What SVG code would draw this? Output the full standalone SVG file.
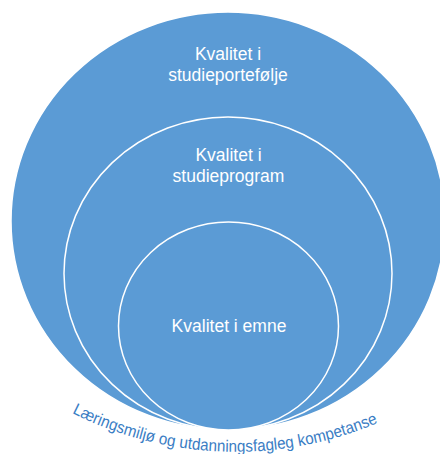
<svg xmlns="http://www.w3.org/2000/svg" width="440" height="454" viewBox="0 0 440 454">
<style>
.ring{fill:#5B9BD5;stroke:#FFFFFF;stroke-width:1.5}
.lbl{font-family:"Liberation Sans",Arial,sans-serif;font-size:17.5px;fill:#FFFFFF;text-anchor:middle}
.arc{font-family:"Liberation Sans",Arial,sans-serif;font-size:16.5px;fill:#3A7DC4}
</style>
<defs>
<path id="arcPath" d="M72,413 A364,364 0 0 0 382,421" fill="none"/>
</defs>
<rect width="440" height="454" fill="#FFFFFF"/>
<g id="portefolje">
<ellipse class="ring" cx="228" cy="221" rx="217" ry="209"/>
<text class="lbl" x="228" y="60">Kvalitet i</text>
<text class="lbl" x="228" y="81">studieportefølje</text>
</g>
<g id="program">
<ellipse class="ring" cx="228" cy="273.5" rx="164" ry="156.5"/>
<text class="lbl" x="228.5" y="161">Kvalitet i</text>
<text class="lbl" x="228.5" y="182">studieprogram</text>
</g>
<g id="emne">
<ellipse class="ring" cx="228.5" cy="326" rx="110" ry="104"/>
<text class="lbl" x="229" y="332">Kvalitet i emne</text>
</g>
<g id="laeringsmiljo">
<text class="arc"><textPath href="#arcPath" startOffset="0" textLength="316" lengthAdjust="spacingAndGlyphs">Læringsmiljø og utdanningsfagleg kompetanse</textPath></text>
</g>
</svg>
